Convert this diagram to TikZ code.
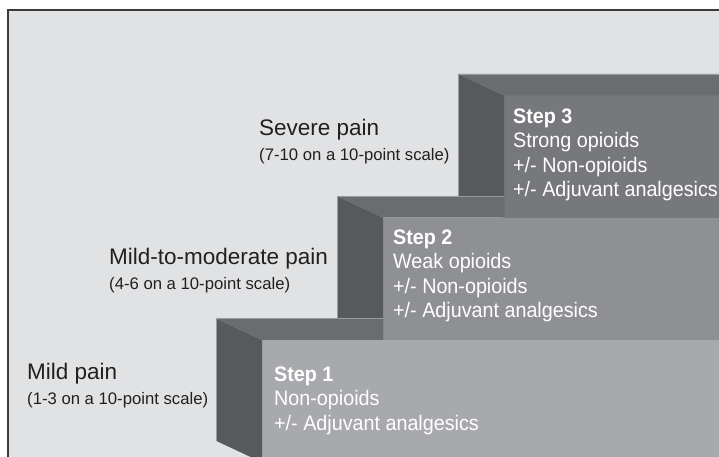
\documentclass[tikz,border=0pt]{standalone}
\usepackage{fontspec}
\setmainfont{Liberation Sans}
\newfontfamily\stepfont{Liberation Sans}[FakeStretch=0.94]
\usetikzlibrary{positioning}

\definecolor{panelbg}{HTML}{E1E2E3}
\definecolor{framegray}{HTML}{3C3C3C}
\definecolor{labeltext}{HTML}{231F20}
\definecolor{sidegray}{HTML}{58595B}
\definecolor{topgray}{HTML}{6B6C6F}
\definecolor{edgegray}{HTML}{9A9B9E}
\definecolor{frontthree}{HTML}{77787B}
\definecolor{fronttwo}{HTML}{8F9093}
\definecolor{frontone}{HTML}{A8A9AC}

\tikzset{
  painlabel/.style={anchor=base west,inner sep=0pt,text=labeltext,font=\fontsize{22.5}{26}\selectfont},
  painscale/.style={anchor=base west,inner sep=0pt,text=labeltext,font=\fontsize{16.7}{20}\selectfont},
  steptext/.style={anchor=north west,inner sep=0pt,align=left,text=white,font=\stepfont\fontsize{21}{24.3}\selectfont},
  sideface/.style={fill=sidegray},
  topface/.style={fill=topgray},
  stepedge/.style={draw=edgegray,line width=0.6pt}
}

\begin{document}
\begin{tikzpicture}[x=1pt,y=1pt]
\useasboundingbox (0,0) rectangle (719,457);
\clip (0,0) rectangle (719,457);
\fill[white] (0,0) rectangle (719,457);
\draw[framegray,line width=1.8pt,fill=panelbg] (8,447) rectangle (740,-20);

% the three steps, back to front
\foreach \fx/\yt/\tx/\front in {504/361.6/740/frontthree, 383/239.3/504/fronttwo, 262/117/383/frontone} {
  \fill[\front] (\fx,\yt) rectangle (740,\yt-122.3);
  \fill[topface] (\fx-46,\yt+21.5) -- (\tx,\yt+21.5) -- (\tx,\yt) -- (\fx,\yt) -- cycle;
  \fill[sideface] (\fx-46,\yt+21.5) -- (\fx,\yt) -- (\fx,\yt-122.3) -- (\fx-46,\yt-100.8) -- cycle;
  \draw[stepedge] (\fx-46,\yt-100.8) -- (\fx-46,\yt+21.5) -- (\tx,\yt+21.5);
}

% pain levels
\node[painlabel] (severe) at (259,321) {Severe pain};
\node[painscale] (severescale) at ([yshift=-24.5pt]severe.base west) {(7-10 on a 10-point scale)};
\node[painlabel] (moderate) at (109,192) {Mild-to-moderate pain};
\node[painscale] (moderatescale) at ([yshift=-24.5pt]moderate.base west) {(4-6 on a 10-point scale)};
\node[painlabel] (mild) at (27,77) {Mild pain};
\node[painscale] (mildscale) at ([yshift=-24.5pt]mild.base west) {(1-3 on a 10-point scale)};

% treatment on each step
\node[steptext] (stepthree) at (513,348.2) {\textbf{Step 3}\\Strong opioids\\+/- Non-opioids\\+/- Adjuvant analgesics};
\node[steptext] (steptwo) at (393,227.2) {\textbf{Step 2}\\Weak opioids\\+/- Non-opioids\\+/- Adjuvant analgesics};
\node[steptext] (stepone) at (274,90.2) {\textbf{Step 1}\\Non-opioids\\+/- Adjuvant analgesics};
\end{tikzpicture}
\end{document}
